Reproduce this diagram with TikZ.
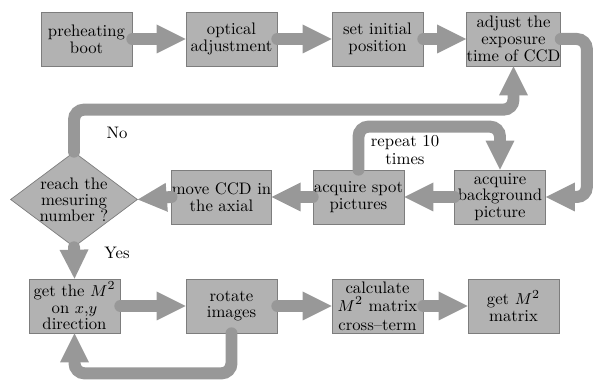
\documentclass[tikz,border=0pt]{standalone}
\usetikzlibrary{shapes.geometric,arrows.meta}
\definecolor{boxgray}{RGB}{178,178,178}
\definecolor{flowgray}{RGB}{152,152,152}
\definecolor{rimgray}{RGB}{125,125,125}
\tikzset{
    stepbox/.style={rectangle, draw=rimgray, fill=boxgray, minimum width=1.82cm,
        minimum height=1.08cm, inner sep=0pt, align=center,
        font=\fontsize{9.5}{9.5}\selectfont},
    askbox/.style={diamond, draw=rimgray, fill=boxgray, aspect=1.34, inner sep=-2pt,
        minimum width=2.54cm, minimum height=1.9cm, align=center,
        font=\fontsize{9.5}{9}\selectfont},
    flow/.style={draw=flowgray, line width=0.24cm, line cap=round, rounded corners=0.2cm,
        -{Triangle[length=0.58cm, width=0.58cm, line width=0pt]}},
    note/.style={align=center, font=\fontsize{9.5}{10}\selectfont},
}

\begin{document}
\begin{tikzpicture}[x=0.02cm, y=-0.02cm]
            \useasboundingbox (0,0) rectangle (603,381);
            % first row
            \node[stepbox] (boot)  at (86.5,39)  {preheating\\boot};
            \node[stepbox] (optic) at (231.5,39) {optical\\adjustment};
            \node[stepbox] (init)  at (377.5,39) {set initial\\position};
            \node[stepbox] (expo)  at (513.5,39) {adjust the\\exposure\\time of CCD};
            % second row
            \node[stepbox] (bg)    at (500,197)   {acquire\\background\\picture};
            \node[stepbox] (spot)  at (358.5,197) {acquire spot\\pictures};
            \node[stepbox] (move)  at (221.5,197) {move CCD in\\the axial};
            \node[askbox]  (reach) at (74,199.5)  {reach the\\mesuring\\number ?};
            % third row
            \node[stepbox] (getm)  at (74.5,306)  {get the $M^2$\\on $x$,$y$\\direction};
            \node[stepbox] (rot)   at (231.5,306) {rotate\\images};
            \node[stepbox, font=\fontsize{9.5}{10.5}\selectfont] (calc) at (377.5,306) {calculate\\$M^2$ matrix\\cross--term};
            \node[stepbox] (mat)   at (513.5,306) {get $M^2$\\matrix};
            % labels
            \node[note] (no)  at (117,133) {No};
            \node[note] (yes) at (117,253) {Yes};
            \node[note] (rep) at (405,150) {repeat 10\\times};
            % arrows
            \draw[flow] (boot.east)  -- (optic.west);
            \draw[flow] (optic.east) -- (init.west);
            \draw[flow] (init.east)  -- (expo.west);
            \draw[flow] (expo.east)
                -| ([xshift=0.82cm]bg.east) % right side
                -- (bg.east);
            \draw[flow] (bg.west)   -- (spot.east);
            \draw[flow] (spot.west) -- (move.east);
            \draw[flow] (move.west) -- (reach.east);
            \draw[flow] (spot.north) -- ++(0,-43) -| (bg.north); % repeat
            \draw[flow] (reach.north) -- ++(0,-42) -| (expo.south); % no
            \draw[flow] (reach.south) -- (getm.north); % yes
            \draw[flow] (getm.east) -- (rot.west);
            \draw[flow] (rot.east)  -- (calc.west);
            \draw[flow] (calc.east) -- (mat.west);
            \draw[flow] (rot.south) -- ++(0,40) -| (getm.south); % back
        \end{tikzpicture}
\end{document}
